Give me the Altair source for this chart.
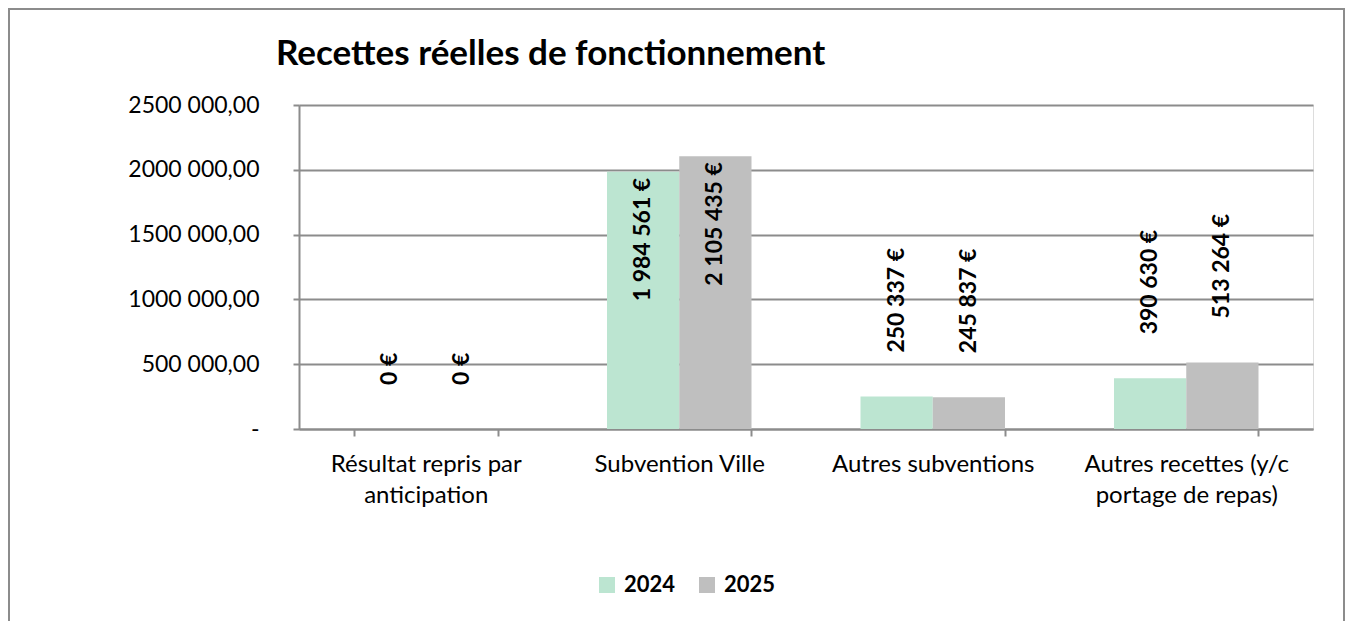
import altair as alt
import pandas as pd

title_text = "Recettes réelles de fonctionnement"
categories = ["Résultat repris par\nanticipation", "Subvention Ville", "Autres subventions", "Autres recettes (y/c\nportage de repas)"]
years = ["2024", "2025"]
values_2024 = [0, 1984561, 250337, 390630]
values_2025 = [0, 2105435, 245837, 513264]
y_ticks = [0, 500000, 1000000, 1500000, 2000000, 2500000]

rows = []
for c, a, b in zip(categories, values_2024, values_2025):
    for yr, v in (("2024", a), ("2025", b)):
        rows.append({"cat": c, "year": yr, "value": v,
                     "label": f"{v:,}".replace(",", " ") + " €"})
df = pd.DataFrame(rows)

FONT = "Lato"
GRAY = "#8c8c8c"
W, H = 1014, 324

xscale = alt.Scale(domain=categories, paddingInner=0.43, paddingOuter=0.215)
x = alt.X("cat:N", sort=categories, scale=xscale, title=None,
          axis=alt.Axis(labelAngle=0, labelExpr="split(datum.label, '\\n')",
                        labelFont=FONT, labelFontSize=24, labelColor="black", labelLimit=0,
                        labelLineHeight=31, labelPadding=16, labelBaseline="top",
                        tickBand="extent", tickSize=7, tickColor=GRAY, tickWidth=2,
                        domainColor=GRAY, domainWidth=2, grid=False))
xoff = alt.XOffset("year:N", scale=alt.Scale(domain=years, paddingInner=0, paddingOuter=0))
y = alt.Y("value:Q", scale=alt.Scale(domain=[0, 2500000], nice=False), title=None,
          axis=alt.Axis(values=y_ticks,
                        labelExpr="datum.value == 0 ? '-' : floor(datum.value/1000) + ' 000,00'",
                        labelFont=FONT, labelFontSize=23, labelColor="black", labelPadding=34,
                        tickSize=6, tickColor=GRAY, tickWidth=2,
                        domainColor=GRAY, domainWidth=2,
                        grid=True, gridColor=GRAY, gridWidth=2))

color = alt.Color("year:N", scale=alt.Scale(domain=years, range=["#bce5d1", "#bfbfbf"]),
                  legend=alt.Legend(title=None, orient="none", direction="horizontal",
                                    legendX=297, legendY=469,
                                    symbolType="square", symbolSize=256, symbolStrokeWidth=0,
                                    labelFont=FONT, labelFontSize=22, labelFontWeight="bold",
                                    labelColor="black", columnPadding=20, labelOffset=6))

base = alt.Chart(df)
one = pd.DataFrame({"t": [title_text]})

border = alt.Chart(one).mark_rect(
    fill=None, stroke="#8c8c8c", strokeWidth=2, clip=False
).encode(x=alt.value(-290), x2=alt.value(W + 31), y=alt.value(-96), y2=alt.value(H + 300))

title = alt.Chart(one).mark_text(
    align="left", baseline="alphabetic", font=FONT, fontSize=35, fontWeight="bold", color="black"
).encode(x=alt.value(-23), y=alt.value(-40), text="t:N")

bars = base.mark_bar().encode(x=x, xOffset=xoff, y=y, color=color)

text_in = base.transform_filter("datum.value >= 1000000").mark_text(
    angle=270, align="right", baseline="middle", dx=-6,
    font=FONT, fontSize=23, fontWeight="bold", color="black"
).encode(x=x, xOffset=xoff, y=y, text="label:N")

text_out = base.transform_filter("datum.value < 1000000").mark_text(
    angle=270, align="left", baseline="middle", dx=44,
    font=FONT, fontSize=23, fontWeight="bold", color="black"
).encode(x=x, xOffset=xoff, y=y, text="label:N")

chart = alt.layer(border, title, bars, text_in, text_out).properties(
    width=W, height=H,
    autosize=alt.AutoSizeParams(type="none"),
    padding={"left": 291, "top": 97, "right": 33, "bottom": 210},
).configure_view(stroke=None).configure(background="white")

chart.save("out.html", embed_options={"renderer": "svg", "actions": False})
